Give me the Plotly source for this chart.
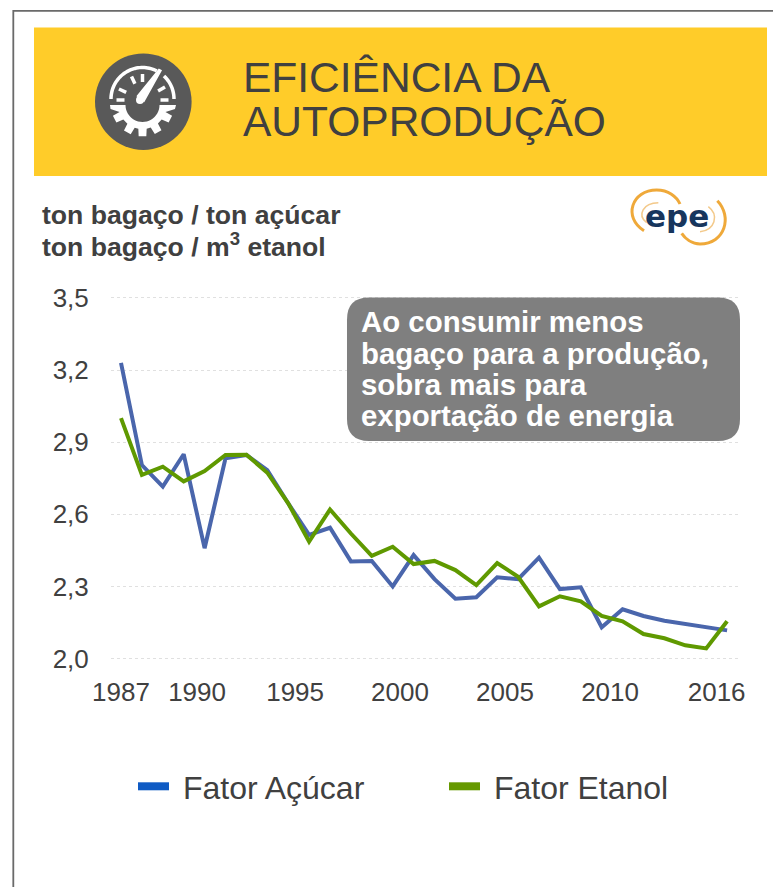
import math
import plotly.graph_objects as go

W, H = 773, 887

years = list(range(1987, 2017))
fator_acucar = [3.23, 2.805, 2.715, 2.85, 2.459, 2.833, 2.847, 2.784, 2.646, 2.514,
                2.544, 2.404, 2.406, 2.30, 2.43, 2.33, 2.249, 2.255, 2.338, 2.33,
                2.42, 2.289, 2.296, 2.13, 2.205, 2.177, 2.157, 2.143, 2.127, 2.117]
fator_etanol = [3.0, 2.764, 2.798, 2.737, 2.78, 2.847, 2.848, 2.773, 2.646, 2.486,
                2.62, 2.52, 2.427, 2.465, 2.393, 2.406, 2.368, 2.305, 2.397, 2.34,
                2.217, 2.259, 2.238, 2.177, 2.155, 2.102, 2.084, 2.055, 2.042, 2.155]
y_ticks = [2.0, 2.3, 2.6, 2.9, 3.2, 3.5]
x_tick_positions = [1987, 1990.64, 1995.33, 2000.35, 2005.37, 2010.4, 2015.5]
x_tick_labels = ["1987", "1990", "1995", "2000", "2005", "2010", "2016"]
title_lines = ["EFICIÊNCIA DA", "AUTOPRODUÇÃO"]
unit_lines = ["ton bagaço / ton açúcar", "ton bagaço / m<sup>3</sup> etanol"]
callout_lines = ["Ao consumir menos", "bagaço para a produção,", "sobra mais para", "exportação de energia"]

TEXT = "#404040"
FONT = "Liberation Sans"
YELLOW = "#FFCC29"
ICON = "#595959"


def px(x):
    return x / W


def py(y):
    return 1 - y / H


def path(cmds):
    out = []
    for c in cmds:
        if isinstance(c, str):
            out.append(c)
        else:
            out.append(f"{px(c[0]):.5f},{py(c[1]):.5f}")
    return " ".join(out)


def poly(points, close=True):
    cmds = []
    for i, p in enumerate(points):
        cmds += ["M" if i == 0 else "L", p]
    if close:
        cmds.append("Z")
    return path(cmds)


def shape_path(d, fill=None, line=None, width=0):
    s = dict(type="path", xref="paper", yref="paper", path=d, layer="above")
    s["fillcolor"] = fill if fill else "rgba(0,0,0,0)"
    s["line"] = dict(color=line if line else "rgba(0,0,0,0)", width=width)
    return s


def rounded(x0, y0, x1, y1, r):
    return path(["M", (x0 + r, y0), "L", (x1 - r, y0), "Q", (x1, y0), (x1, y0 + r),
                 "L", (x1, y1 - r), "Q", (x1, y1), (x1 - r, y1),
                 "L", (x0 + r, y1), "Q", (x0, y1), (x0, y1 - r),
                 "L", (x0, y0 + r), "Q", (x0, y0), (x0 + r, y0), "Z"])


def arc_pts(cx, cy, r, a0, a1, n=40):
    return [(cx + r * math.cos(math.radians(a0 + (a1 - a0) * i / n)),
             cy - r * math.sin(math.radians(a0 + (a1 - a0) * i / n))) for i in range(n + 1)]


shapes = []
# frame
shapes.append(shape_path(poly([(13.3, H), (13.3, 10.8), (W, 10.8)], close=False), line="#6a6a6a", width=1.8))
# banner
shapes.append(shape_path(poly([(34, 27.5), (767, 27.5), (767, 176), (34, 176)]), fill=YELLOW))
# icon disc
cx, cy, r = 143.3, 101.7, 48.3
shapes.append(dict(type="circle", xref="paper", yref="paper", x0=px(cx - r), x1=px(cx + r),
                   y0=py(cy + r), y1=py(cy - r), fillcolor=ICON, line=dict(width=0), layer="above"))
gx, gy = 142.5, 99
# gauge arc
shapes.append(shape_path(poly(arc_pts(gx, gy, 31.5, 63, 180), close=False), line="white", width=3.5))
shapes.append(shape_path(poly(arc_pts(gx, gy, 31.5, 0, 47, 12), close=False), line="white", width=3.5))
# gauge ticks
for a in (180, 155, 115, 90, 30, 0):
    ca, sa = math.cos(math.radians(a)), math.sin(math.radians(a))
    shapes.append(shape_path(poly([(gx + 18 * ca, gy + 1 - 18 * sa),
                                   (gx + 26 * ca, gy + 1 - 26 * sa)], close=False), line="white", width=3.5))
# needle
shapes.append(shape_path(poly([(137.5, 96), (159, 69.5), (161, 70.5), (144, 101)]), fill="white", line="white", width=1.5))
shapes.append(dict(type="circle", xref="paper", yref="paper", x0=px(136), x1=px(144), y0=py(104),
                   y1=py(96), fillcolor="white", line=dict(width=0), layer="above"))
# half gear
gcx, gcy = 142.5, 105
pts = [(110, gcy), (110.5, gcy + 4)]
for t in (207, 241, 270, 300, 333):
    for da, rr in ((-10, 24), (-7, 31.5), (7, 31.5), (10, 24)):
        a = t + da
        pts.append((gcx + rr * math.cos(math.radians(a)), gcy - rr * math.sin(math.radians(a))))
pts += [(175, gcy + 4), (176, gcy), (160, gcy)]
pts += arc_pts(gcx, gcy, 17, 0, -180, 24)
shapes.append(shape_path(poly(pts), fill="white"))
# logo
ORANGE = "#EFA93A"
ORANGE2 = "#F3C98A"


def z(x, y):
    return (600 + x / 3, 180 + y / 3)


shapes.append(shape_path(path(["M", z(132, 152), "C", z(68, 112), z(95, 30), z(170, 30), "C", z(205, 30), z(230, 50), z(240, 72)]),
                         line=ORANGE, width=3))
shapes.append(shape_path(path(["M", z(352, 62), "C", z(398, 110), z(375, 192), z(300, 192), "C", z(275, 192), z(255, 175), z(245, 160)]),
                         line=ORANGE, width=3))
shapes.append(shape_path(path(["M", z(140, 128), "C", z(110, 105), z(130, 68), z(175, 68)]), line=ORANGE2, width=1.5))
shapes.append(shape_path(path(["M", z(325, 80), "C", z(358, 105), z(345, 150), z(300, 155)]), line=ORANGE2, width=1.5))
# callout
shapes.append(shape_path(rounded(347, 297.5, 740, 441, 22), fill="#7F7F7F"))


def text(t, x, y, size, color=TEXT, bold=False, family=FONT):
    return dict(text=f"<b>{t}</b>" if bold else t, x=px(x), y=py(y), xref="paper", yref="paper",
                xanchor="left", yanchor="middle", showarrow=False, borderpad=0, borderwidth=0,
                font=dict(family=family, size=size, color=color), align="left")


annotations = [
    text(title_lines[0], 243, 77, 42.5),
    text(title_lines[1], 243, 122, 42.5),
    text(unit_lines[0], 42, 215.5, 26.6, bold=True),
    text(unit_lines[1], 42, 244.5, 26.6, bold=True),
    text("epe", 645, 216, 31, color="#17365D", bold=True, family="DejaVu Sans"),
]
for i, line in enumerate(callout_lines):
    annotations.append(text(line, 361, 322 + i * 31.3, 29.4, color="white", bold=True))

fig = go.Figure()
fig.add_trace(go.Scatter(x=years, y=fator_acucar, mode="lines", name="Fator Açúcar", showlegend=False,
                         line=dict(color="#4A66AC", width=4)))
fig.add_trace(go.Scatter(x=years, y=fator_etanol, mode="lines", name="Fator Etanol", showlegend=False,
                         line=dict(color="#5F9900", width=4)))
NB = "\u00a0"
fig.add_trace(go.Scatter(x=[None], y=[None], mode="lines", name=NB + "Fator Açúcar",
                         line=dict(color="#0F5BC4", width=8)))
fig.add_trace(go.Scatter(x=[None], y=[None], mode="lines", name=NB + "Fator Etanol",
                         line=dict(color="#669900", width=8)))

x0_px, x1_px = 111, 738
step = 20.9
y_per_unit = 240.3
pad = 0.01  # keeps the gridlines at 2,0 and 3,5 from being clipped at the axis ends
y_top = 298 - pad * y_per_unit
y_bot = 658.5 + pad * y_per_unit
fig.update_layout(
    width=W, height=H, autosize=False,
    margin=dict(l=0, r=0, t=0, b=0, pad=0, autoexpand=False),
    paper_bgcolor="white", plot_bgcolor="white",
    separators=",.",
    font=dict(family=FONT, color=TEXT),
    shapes=shapes, annotations=annotations,
    xaxis=dict(domain=[px(x0_px), px(x1_px)],
               range=[1987 + (x0_px - 121) / step, 1987 + (x1_px - 121) / step],
               tickmode="array", tickvals=x_tick_positions, ticktext=x_tick_labels,
               tickfont=dict(size=26, color=TEXT, family=FONT),
               showgrid=False, zeroline=False, showline=False,
               ticks="outside", ticklen=7.6, tickcolor="rgba(0,0,0,0)"),
    yaxis=dict(domain=[py(y_bot), py(y_top)], range=[2.0 - pad, 3.5 + pad],
               tickmode="array", tickvals=y_ticks, tickformat=".1f",
               tickfont=dict(size=26, color=TEXT, family=FONT),
               showgrid=True, gridcolor="#e0e0e0", gridwidth=1, griddash="dot", zeroline=False, showline=False,
               ticks="outside", ticklen=16, tickcolor="rgba(0,0,0,0)"),
    legend=dict(orientation="h", x=px(133), y=py(786.5), xanchor="left", yanchor="middle",
                font=dict(size=32, color=TEXT, family=FONT), itemwidth=31,
                entrywidth=265, entrywidthmode="pixels", bgcolor="rgba(0,0,0,0)"),
)
fig.write_html("out.html", config=dict(displayModeBar=False),
               post_script="document.body.style.margin='0';document.documentElement.style.overflow='hidden';")
